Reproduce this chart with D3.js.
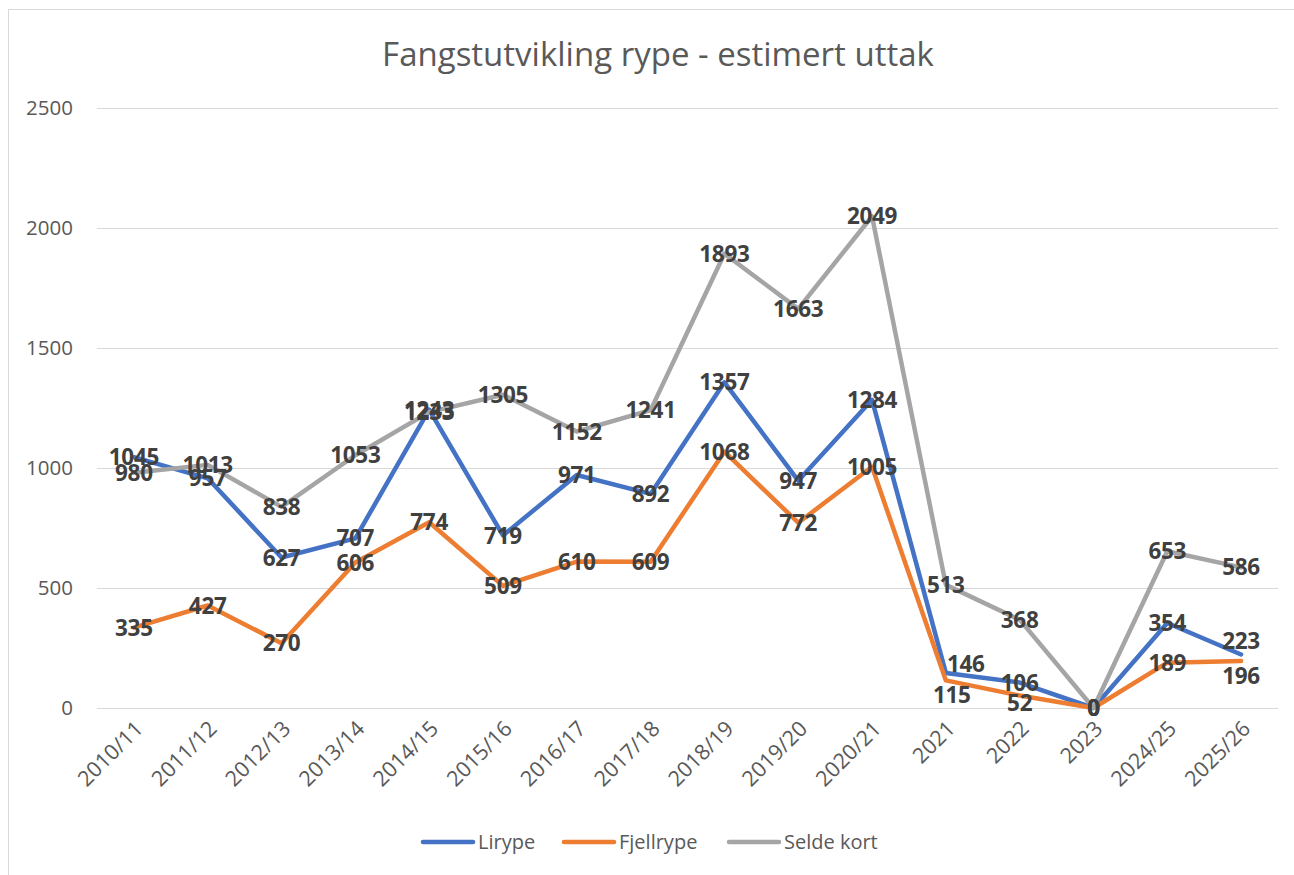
<!DOCTYPE html>
<html>
<head>
<meta charset="utf-8">
<script src="https://cdn.jsdelivr.net/npm/d3@7"></script>
<style>
  body { margin: 0; background: #fff; }
  svg { display: block; font-family: "Open Sans", "Noto Sans", sans-serif; }
</style>
</head>
<body>
<svg id="chart" width="1294" height="875"></svg>
<script>
// seasons on the x axis
const seasons = ["2010/11", "2011/12", "2012/13", "2013/14", "2014/15", "2015/16", "2016/17", "2017/18",
  "2018/19", "2019/20", "2020/21", "2021", "2022", "2023", "2024/25", "2025/26"]

const lirype     = [1045, 957, 627, 707, 1243, 719, 971, 892, 1357, 947, 1284, 146, 106, 0, 354, 223]
const fjellrype  = [335, 427, 270, 606, 774, 509, 610, 609, 1068, 772, 1005, 115, 52, 0, 189, 196]
const seldeKort  = [980, 1013, 838, 1053, 1233, 1305, 1152, 1241, 1893, 1663, 2049, 513, 368, 0, 653, 586]

const seriesNames  = ["Lirype", "Fjellrype", "Selde kort"]
const seriesColors = ["#4472C4", "#ED7D31", "#A5A5A5"]
const yTicks = [0, 500, 1000, 1500, 2000, 2500]

const series = [lirype, fjellrype, seldeKort].map((values, i) => ({
  name: seriesNames[i], color: seriesColors[i], values: values
}))

// a few labels were nudged off their points in the original (series index -> point index -> [dx, dy])
const labelNudge = {
  0: {11: [20, -9], 15: [0, -14]},
  1: {11: [6, 14], 12: [0, 7], 15: [0, 15]}
}

const svg = d3.select("#chart")
const plot = {left: 97, right: 1278, top: 108, bottom: 708}

// chart area frame
svg.append("rect")
  .attr("x", 8.5).attr("y", 9.5)
  .attr("width", 1300).attr("height", 900)
  .attr("fill", "#fff").attr("stroke", "#D9D9D9").attr("stroke-width", 1)

const x = d3.scalePoint().domain(seasons).range([plot.left, plot.right]).padding(0.5)
const y = d3.scaleLinear().domain([0, 2500]).range([plot.bottom, plot.top])

// title
svg.append("text")
  .attr("x", 658).attr("y", 66)
  .attr("text-anchor", "middle")
  .attr("font-size", 33).attr("fill", "#595959")
  .text("Fangstutvikling rype - estimert uttak")

// gridlines + y labels
const yAxis = d3.axisLeft(y).tickValues(yTicks).tickFormat(d3.format("d"))
  .tickSize(-(plot.right - plot.left)).tickPadding(24)
svg.append("g")
  .attr("transform", `translate(${plot.left},0)`)
  .call(yAxis)
  .call(g => g.select(".domain").remove())
  .call(g => g.selectAll("line").attr("stroke", "#D9D9D9").attr("stroke-width", 1))
  .call(g => g.selectAll("text").attr("font-size", 20.5).attr("fill", "#595959")
    .attr("font-family", "'Open Sans', sans-serif"))

// x labels rotated 45°
const xAxis = d3.axisBottom(x).tickSize(0).tickPadding(0)
svg.append("g")
  .attr("transform", `translate(0,${plot.bottom})`)
  .call(xAxis)
  .call(g => g.select(".domain").remove())
  .call(g => g.selectAll("text")
    .attr("font-size", 21.5).attr("fill", "#595959")
    .attr("font-family", "'Open Sans', sans-serif")
    .attr("text-anchor", "end")
    .attr("dy", null)
    .attr("transform", "translate(10,22) rotate(-45)"))

// lines
const line = d3.line().x((d, i) => x(seasons[i])).y(d => y(d))
svg.append("g").selectAll("path")
  .data(series)
  .join("path")
  .attr("d", d => line(d.values))
  .attr("fill", "none")
  .attr("stroke", d => d.color)
  .attr("stroke-width", 4.5)
  .attr("stroke-linejoin", "round")
  .attr("stroke-linecap", "round")

// data labels centred on points
const labelG = svg.append("g")
series.forEach((s, si) => {
  const nudge = labelNudge[si] || {}
  labelG.selectAll(null)
    .data(s.values)
    .join("text")
    .attr("x", (d, i) => x(seasons[i]) + (nudge[i] ? nudge[i][0] : 0))
    .attr("y", (d, i) => y(d) + (nudge[i] ? nudge[i][1] : 0))
    .attr("dy", "0.36em")
    .attr("text-anchor", "middle")
    .attr("font-size", 22.5).attr("font-weight", "bold").attr("fill", "#404040")
    .attr("letter-spacing", -0.3)
    .text(d => d)
})

// legend
const legendX = [421, 562, 727]
const legend = svg.append("g").selectAll("g")
  .data(series)
  .join("g")
  .attr("transform", (d, i) => `translate(${legendX[i]},842)`)
legend.append("line")
  .attr("x1", 2).attr("x2", 52)
  .attr("stroke", d => d.color).attr("stroke-width", 4.5).attr("stroke-linecap", "round")
legend.append("text")
  .attr("x", 57).attr("dy", "0.35em")
  .attr("font-size", 20).attr("fill", "#595959")
  .text(d => d.name)
</script>
</body>
</html>
